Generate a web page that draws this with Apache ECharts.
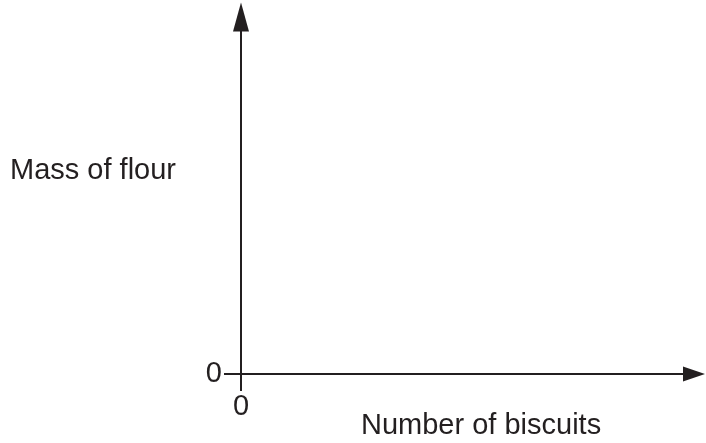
<!DOCTYPE html>
<html lang="en">
<head>
    <meta charset="UTF-8">
    <title>biscuits</title>
    <script type="text/javascript" src="https://cdn.jsdelivr.net/npm/echarts@6/dist/echarts.min.js"></script>
    <style>
        html, body { margin: 0; padding: 0; background: #fff; }
    </style>
</head>
<body>
<div id="chart" style="width: 706px;height:443px;"></div>
<script type="text/javascript">
    // blank axes, only the origin is marked
    const xTicks = [0];
    const yTicks = [0];
    const xRange = [0, 10];
    const yRange = [0, 10];
    const points = [];
    const xTitle = 'Number of biscuits';
    const yTitle = 'Mass of flour';

    const ink = '#231f20';
    const font = 'Liberation Sans, Arial, sans-serif';

    let option = {
        animation: false,
        backgroundColor: '#ffffff',
        grid: {
            left: 241,
            right: 12,
            top: 17,
            bottom: 69
        },
        xAxis: {
            type: 'value',
            min: xRange[0],
            max: xRange[1],
            splitLine: {show: false},
            axisLine: {
                onZero: false,
                symbol: ['none', 'triangle'],
                symbolSize: [15, 22],
                lineStyle: {color: ink, width: 2}
            },
            axisTick: {
                show: true,
                length: 17,
                customValues: xTicks,
                lineStyle: {color: ink, width: 2}
            },
            axisLabel: {
                customValues: xTicks,
                margin: 18,
                color: ink,
                fontSize: 29,
                fontFamily: font
            }
        },
        yAxis: {
            type: 'value',
            min: yRange[0],
            max: yRange[1],
            splitLine: {show: false},
            axisLine: {
                show: true,
                onZero: false,
                symbol: ['none', 'triangle'],
                symbolSize: [16, 29],
                lineStyle: {color: ink, width: 2}
            },
            axisTick: {
                show: true,
                length: 17,
                customValues: yTicks,
                lineStyle: {color: ink, width: 2}
            },
            axisLabel: {
                customValues: yTicks,
                margin: 19,
                color: ink,
                fontSize: 29,
                fontFamily: font
            }
        },
        graphic: [
            {
                type: 'text',
                left: 10,
                top: 171 - 14.5,
                style: {
                    text: yTitle,
                    fill: ink,
                    fontSize: 29,
                    fontFamily: font
                }
            },
            {
                type: 'text',
                left: 361,
                top: 426 - 14.5,
                style: {
                    text: xTitle,
                    fill: ink,
                    fontSize: 29,
                    fontFamily: font
                }
            }
        ],
        series: [
            {
                type: 'line',
                data: points
            }
        ]
    };
    echarts.init(document.getElementById('chart')).setOption(option);
</script>
</body>
</html>
